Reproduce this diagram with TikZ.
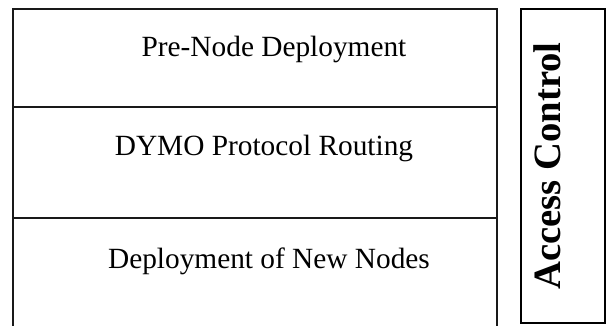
\documentclass[tikz,border=0pt]{standalone}
\usepackage{fontspec}
\setmainfont{Liberation Serif}
\begin{document}
\begin{tikzpicture}[x=0.75pt,y=-0.75pt,
  layerframe/.style={draw=black!90, line width=1.3pt},
  sideframe/.style={draw=black, line width=1.5pt},
  lbl/.style={font=\fontsize{22}{26}\selectfont, anchor=base, inner sep=0pt},
  sidelbl/.style={font=\fontsize{29}{34}\selectfont\bfseries, anchor=base, inner sep=0pt, rotate=90}]
\clip (0,0) rectangle (607,325);
% left stacked layers
\draw[layerframe] (13.3,9) rectangle (497,107.3);
\draw[layerframe] (13.3,107.3) rectangle (497,218.3);
\draw[layerframe] (13.3,218.3) rectangle (497,340);
% right side box
\draw[sideframe] (521,9) rectangle (605,323);
% labels
\node[lbl] (pre) at (274,56.5) {Pre-Node Deployment};
\node[lbl] (dymo) at (264,155.5) {DYMO Protocol Routing};
\node[lbl] (newn) at (269,268) {Deployment of New Nodes};
\node[sidelbl] (acc) at (560,166) {Access Control};
\end{tikzpicture}
\end{document}
